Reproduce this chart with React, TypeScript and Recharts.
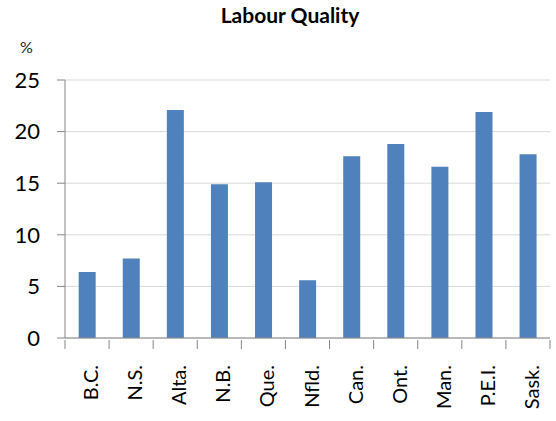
import React from 'react';
import { BarChart, Bar, XAxis, YAxis, CartesianGrid } from 'recharts';

const provinces = ['B.C.', 'N.S.', 'Alta.', 'N.B.', 'Que.', 'Nfld.', 'Can.', 'Ont.', 'Man.', 'P.E.I.', 'Sask.'];
const labourQuality = [6.4, 7.7, 22.1, 14.9, 15.1, 5.6, 17.6, 18.8, 16.6, 21.9, 17.8];
const yTicks = [0, 5, 10, 15, 20, 25];

const data = provinces.map((name, i) => ({ name, value: labourQuality[i] }));

const W = 556;
const H = 421;
const M = { top: 80, right: 6, bottom: 0, left: 0 };
const X_H = 83;
const Y_W = 65;
const band = (W - M.right - Y_W) / provinces.length;
const FONT = 'Lato, "Open Sans", sans-serif';

function XTick(props: any) {
    const { x, y, payload, index } = props;
    const half = band / 2;
    return (
        <g>
            <line x1={x - half} x2={x - half} y1={y - 8} y2={y + 1} stroke="#868686" />
            {index === provinces.length - 1 && (
                <line x1={x + half} x2={x + half} y1={y - 8} y2={y + 1} stroke="#868686" />
            )}
            <text
                transform={`translate(${x + 3},${y + 17}) rotate(-90)`}
                textAnchor="end"
                dominantBaseline="central"
                fontSize={20}
                fontFamily={FONT}
                fill="#000"
            >
                {payload.value}
            </text>
        </g>
    );
}

export default function App() {
    return (
        <div style={{ position: 'absolute', left: 0, top: 0, width: W, height: H, background: '#fff' }}>
            <div style={{ position: 'absolute', left: 0, width: 580, top: 2, textAlign: 'center', fontFamily: FONT, fontWeight: 'bold', fontSize: 21 }}>
                Labour Quality
            </div>
            <div style={{ position: 'absolute', left: 20, top: 37, fontFamily: FONT, fontSize: 16, color: '#222' }}>%</div>
            <BarChart width={W} height={H} data={data} margin={M} barCategoryGap="31%">
                <CartesianGrid vertical={false} stroke="#d9d9d9" />
                <XAxis
                    dataKey="name"
                    interval={0}
                    tickLine={false}
                    tickSize={8}
                    axisLine={{ stroke: '#868686' }}
                    tick={<XTick />}
                    height={X_H}
                />
                <YAxis
                    width={Y_W}
                    domain={[0, 25]}
                    ticks={yTicks}
                    tickSize={8}
                    tickMargin={17}
                    tickLine={{ stroke: '#868686' }}
                    axisLine={{ stroke: '#868686' }}
                    tick={{ fill: '#000', fontSize: 22, fontFamily: FONT }}
                />
                <Bar dataKey="value" fill="#4f81bd" isAnimationActive={false} />
            </BarChart>
        </div>
    );
}
